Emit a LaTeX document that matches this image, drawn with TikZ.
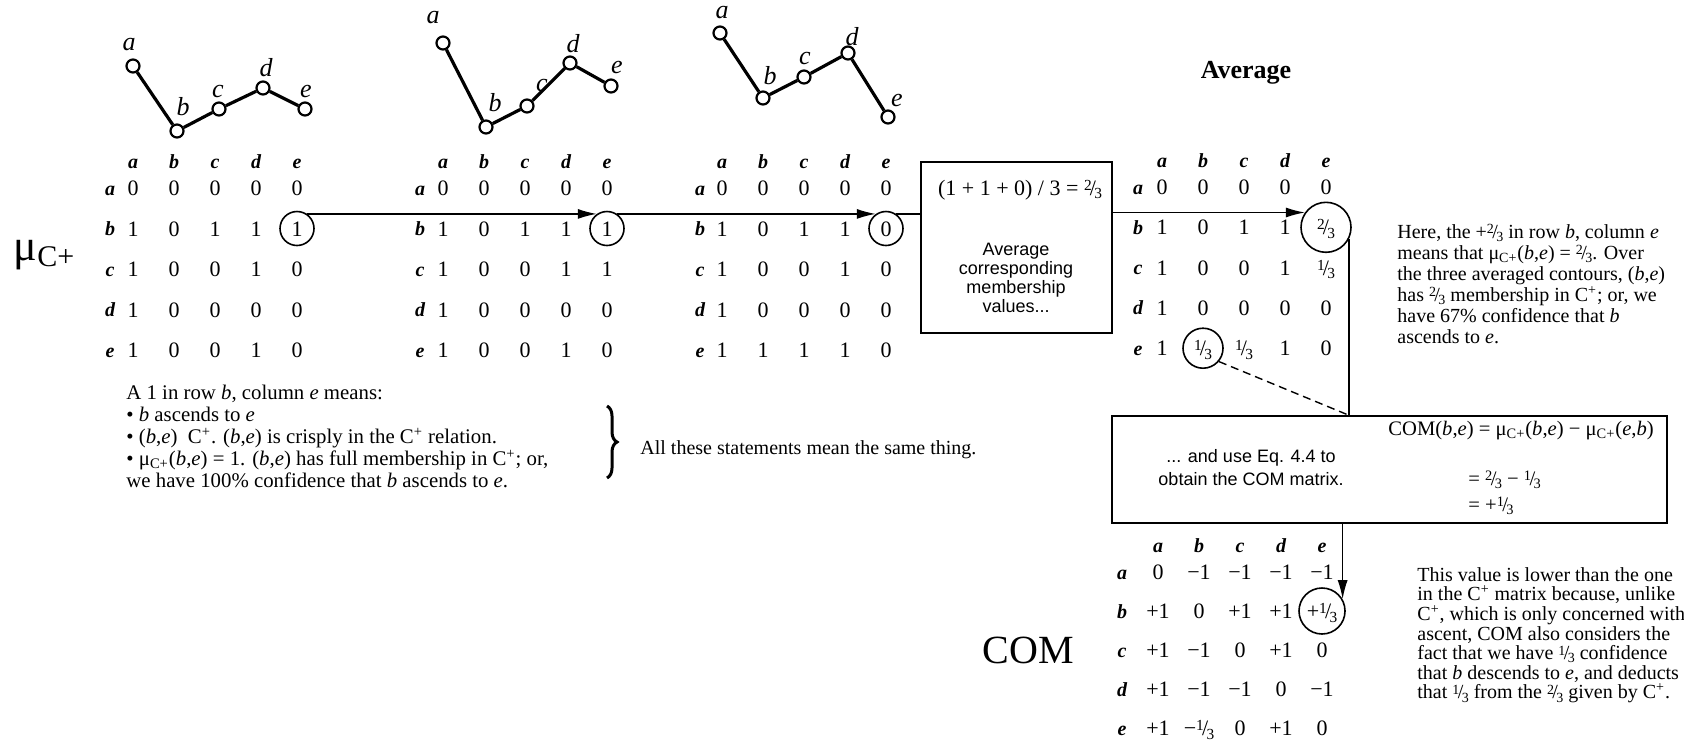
\documentclass[tikz,border=0pt]{standalone}
\usepackage{fontspec}
\setmainfont{Liberation Serif}
\setsansfont{Liberation Sans}
\usetikzlibrary{positioning,arrows.meta,decorations.pathreplacing}
\setlength{\lineskiplimit}{-5pt}
\newcommand{\fr}[2]{\raisebox{0.5ex}{\scalebox{0.7}{#1}}\kern-0.08em/\kern-0.08em\raisebox{-0.35ex}{\scalebox{0.7}{#2}}}
\newcommand{\muc}{μ\textsubscript{C+}}
\newcommand{\Cp}{C\textsuperscript{+}}
% one 5x5 membership matrix: name, x of column a, y of row a, row step, label offset, rows
\newcommand{\memmat}[6]{%
  \foreach \lab [count=\ki] in {a,b,c,d,e}{
    \node[hd] (#1-h\ki) at ({#2+41*(\ki-1)},{#3-27}) {\lab};
    \node[hd] (#1-l\ki) at ({#2-#5},{#3+#4*(\ki-1)}) {\lab};
  }
  \foreach \row [count=\ri] in {#6}{
    \foreach \val [count=\ci] in \row
      \node[cell] (#1-\ri-\ci) at ({#2+41*(\ci-1)},{#3+#4*(\ri-1)}) {\val};
  }
}

\begin{document}
\begin{tikzpicture}[x=0.5pt,y=-0.5pt,
  hd/.style={inner sep=0,text height=7pt,text depth=0pt,font=\fontsize{10}{10}\selectfont\bfseries\itshape},
  cell/.style={inner sep=0,text height=7.5pt,text depth=0pt,font=\fontsize{11}{11}\selectfont},
  pt/.style={circle,draw,fill=white,line width=1.1pt,minimum size=6.5pt,inner sep=0},
  cont/.style={line width=1.6pt},
  lab/.style={inner sep=0,font=\fontsize{13}{13}\selectfont\itshape},
  circ/.style={circle,draw,line width=0.8pt,inner sep=0},
  box/.style={rectangle,draw,line width=0.8pt},
  txt/.style={inner sep=0,align=left,font=\fontsize{10}{10}\selectfont},
  sans/.style={inner sep=0,align=center,font=\sffamily\fontsize{9}{9.5}\selectfont},
  ln/.style={line width=0.7pt},
  arr/.style={ln,-{Latex[length=9.5pt,width=5pt]}},
  brc/.style={decorate,decoration={brace,amplitude=5pt},line width=1.5pt}]
  \useasboundingbox (0,0) rectangle (1684,740);

  % contours
  \node[pt] (p1a) at (133,66) {};
  \node[pt] (p1b) at (177,131) {};
  \node[pt] (p1c) at (219,109) {};
  \node[pt] (p1d) at (263,88) {};
  \node[pt] (p1e) at (305,109) {};
  \draw[cont] (p1a) -- (p1b) -- (p1c) -- (p1d) -- (p1e);
  \node[lab] (l1a) at (129,45) {a};
  \node[lab] (l1b) at (183,107) {b};
  \node[lab] (l1c) at (218,91) {c};
  \node[lab] (l1d) at (266,68) {d};
  \node[lab] (l1e) at (306,91) {e};

  \node[pt] (p2a) at (443,43) {};
  \node[pt] (p2b) at (486,127) {};
  \node[pt] (p2c) at (527,106) {};
  \node[pt] (p2d) at (570,63) {};
  \node[pt] (p2e) at (611,86) {};
  \draw[cont] (p2a) -- (p2b) -- (p2c) -- (p2d) -- (p2e);
  \node[lab] (l2a) at (433,18) {a};
  \node[lab] (l2b) at (495,103) {b};
  \node[lab] (l2c) at (542,85) {c};
  \node[lab] (l2d) at (573,44) {d};
  \node[lab] (l2e) at (617,67) {e};

  \node[pt] (p3a) at (720,33) {};
  \node[pt] (p3b) at (763,98) {};
  \node[pt] (p3c) at (804,77) {};
  \node[pt] (p3d) at (848,53) {};
  \node[pt] (p3e) at (888,117) {};
  \draw[cont] (p3a) -- (p3b) -- (p3c) -- (p3d) -- (p3e);
  \node[lab] (l3a) at (722,13) {a};
  \node[lab] (l3b) at (770,76) {b};
  \node[lab] (l3c) at (805,58) {c};
  \node[lab] (l3d) at (852,37) {d};
  \node[lab] (l3e) at (897,100) {e};

  % matrices
  \memmat{m1}{133}{188}{40.5}{23}{{0,0,0,0,0},{1,0,1,1,1},{1,0,0,1,0},{1,0,0,0,0},{1,0,0,1,0}}
  \memmat{m2}{443}{188}{40.5}{23}{{0,0,0,0,0},{1,0,1,1,1},{1,0,0,1,1},{1,0,0,0,0},{1,0,0,1,0}}
  \memmat{m3}{722}{188}{40.5}{22}{{0,0,0,0,0},{1,0,1,1,0},{1,0,0,1,0},{1,0,0,0,0},{1,1,1,1,0}}
  \memmat{m4}{1162}{187}{40.3}{24}{{0,0,0,0,0},{1,0,1,1,\fr23},{1,0,0,1,\fr13},{1,0,0,0,0},{1,\fr13,\fr13,1,0}}
  \memmat{mc}{1158}{572}{39}{36}{{0,−1,−1,−1,−1},{+1,0,+1,+1,+\fr13},{+1,−1,0,+1,0},{+1,−1,−1,0,−1},{+1,−\fr13,0,+1,0}}

  \node[circ,minimum size=17pt] (c1) at (m1-2-5) {};
  \node[circ,minimum size=17pt] (c2) at (m2-2-5) {};
  \node[circ,minimum size=17pt] (c3) at (m3-2-5) {};
  \node[circ,minimum size=25pt] (c4) at (m4-2-5) {};
  \node[circ,minimum size=20pt] (c5) at (m4-5-2) {};
  \node[circ,minimum size=23pt] (c6) at (mc-2-5) {};

  % titles
  \node (mulab) at (44,255) {\fontsize{22}{22}\selectfont μ\raisebox{-0.3ex}{\fontsize{15}{15}\selectfont C+}};
  \node (avglab) at (1246,73) {\fontsize{13}{13}\selectfont\bfseries Average};
  \node (comlab) at (1028,650) {\fontsize{20}{20}\selectfont COM};

  % boxes
  \node[box,minimum width=95.5pt,minimum height=85.5pt] (avgbox) at (1016.5,247.5) {};
  \node[inner sep=0,font=\fontsize{11}{11}\selectfont] (avgeq) at (1020,190) {(1 + 1 + 0) / 3 = \fr23};
  \node[sans] (avgtxt) at (1016,278) {Average\\corresponding\\membership\\values...};
  \node[box,minimum width=277.5pt,minimum height=53.5pt] (combox) at (1389.5,469.5) {};
  \node[sans,font=\sffamily\fontsize{9}{11.5}\selectfont] (comtxt) at (1251,468) {... and use Eq. 4.4 to\\obtain the COM matrix.};
  \node[txt,anchor=west,font=\fontsize{10.3}{10.3}\selectfont] (comeq1) at (1388,431) {COM(\textit{b},\textit{e}) = \muc(\textit{b},\textit{e}) − \muc(\textit{e},\textit{b})};
  \node[txt,anchor=west,font=\fontsize{10.3}{10.3}\selectfont] (comeq2) at (1468,480) {= \fr23 − \fr13};
  \node[txt,anchor=west,font=\fontsize{10.3}{10.3}\selectfont] (comeq3) at (1468,506) {= +\fr13};

  % notes
  \node[txt,anchor=north west,font=\fontsize{10.4}{11}\selectfont] (note1) at (126,385) {A 1 in row \textit{b}, column \textit{e} means:\\
    • \textit{b} ascends to \textit{e}\\
    • (\textit{b},\textit{e})\ \ \Cp. (\textit{b},\textit{e}) is crisply in the \Cp{} relation.\\
    • \muc(\textit{b},\textit{e}) = 1. (\textit{b},\textit{e}) has full membership in \Cp; or,\\
    we have 100\% confidence that \textit{b} ascends to \textit{e}.};
  \coordinate (brtop) at (607,406);
  \coordinate (brbot) at (607,478);
  \draw[brc] (brtop) -- (brbot);
  \node[txt,anchor=west] (note2) at (640,450) {All these statements mean the same thing.};
  \node[txt,anchor=north west,font=\fontsize{10}{10.5}\selectfont] (note3) at (1397,224) {Here, the +\fr23 in row \textit{b}, column \textit{e}\\
    means that \muc(\textit{b},\textit{e}) = \fr23. Over\\
    the three averaged contours, (\textit{b},\textit{e})\\
    has \fr23 membership in \Cp; or, we\\
    have 67\% confidence that \textit{b}\\
    ascends to \textit{e}.};
  \node[txt,anchor=north west,font=\fontsize{10}{9.8}\selectfont] (note4) at (1417,567) {This value is lower than the one\\
    in the \Cp{} matrix because, unlike\\
    \Cp, which is only concerned with\\
    ascent, COM also considers the\\
    fact that we have \fr13 confidence\\
    that \textit{b} descends to \textit{e}, and deducts\\
    that \fr13 from the \fr23 given by \Cp.};

  % connectors
  \draw[arr] (c1.55) -- (c2.125);
  \draw[arr] (c2.55) -- (c3.125);
  \draw[ln] (c3.55) -- (c3.55 -| avgbox.west);
  \draw[arr] (c4.145 -| avgbox.east) -- (c4.145);
  \draw[ln] (c4.-28) -- (c4.-28 |- combox.north);
  \draw[ln,dashed,dash pattern=on 4pt off 2.5pt] (c5.-40) -- (c4.-28 |- combox.north);
  \draw[arr] (c6.30 |- combox.south) -- (c6.30);
\end{tikzpicture}
\end{document}
